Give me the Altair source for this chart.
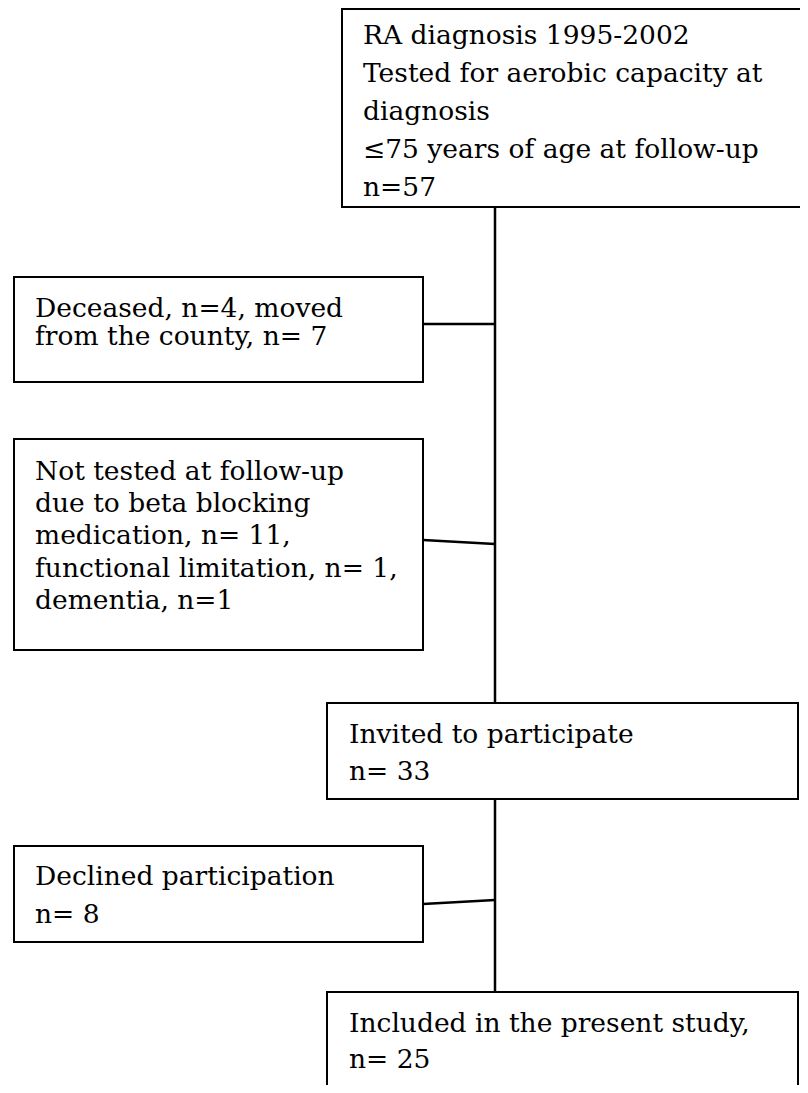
import altair as alt
import pandas as pd

# Box geometry (reference pixel coordinates)
box_x1 = [342, 14, 14, 327, 14, 327]
box_x2 = [805, 423, 423, 798, 423, 798]
box_y1 = [9, 277, 439, 703, 846, 992]
box_y2 = [207, 382, 650, 799, 942, 1110]

# Text of each box, one entry per line
box_lines = [
    ["RA diagnosis 1995-2002", "Tested for aerobic capacity at", "diagnosis",
     "\u226475 years of age at follow-up", "n=57"],
    ["Deceased, n=4, moved", "from the county, n= 7"],
    ["Not tested at follow-up", "due to beta blocking", "medication, n= 11,",
     "functional limitation, n= 1,", "dementia, n=1"],
    ["Invited to participate", "n= 33"],
    ["Declined participation", "n= 8"],
    ["Included in the present study,", "n= 25"],
]
text_x = [363, 35, 35, 349, 35, 349]
text_baselines = [
    [44, 82, 120, 158, 196],
    [317, 345],
    [480, 512, 544, 577, 609],
    [743, 780],
    [885, 923],
    [1032, 1068],
]

# Connector lines
line_x1 = [495, 495, 423, 423, 423]
line_y1 = [207, 799, 324, 540, 904]
line_x2 = [495, 495, 495, 495, 495]
line_y2 = [707, 992, 324, 544, 900]

boxes = pd.DataFrame({"x": box_x1, "x2": box_x2, "y": box_y1, "y2": box_y2})
lines = pd.DataFrame({"x": line_x1, "y": line_y1, "x2": line_x2, "y2": line_y2})
rows = []
for i, ls in enumerate(box_lines):
    for t, yb in zip(ls, text_baselines[i]):
        rows.append({"x": text_x[i], "y": yb, "label": t})
texts = pd.DataFrame(rows)

W, H = 792, 1077
X0, Y0 = 8, 8
xs = alt.Scale(domain=[X0, X0 + W], nice=False, zero=False)
ys = alt.Scale(domain=[Y0, Y0 + H], nice=False, zero=False, reverse=True)

rect = alt.Chart(boxes).mark_rect(fill="white", stroke="black", strokeWidth=2, clip=True).encode(
    x=alt.X("x:Q", scale=xs, axis=None), x2="x2:Q",
    y=alt.Y("y:Q", scale=ys, axis=None), y2="y2:Q",
)

rule = alt.Chart(lines).mark_rule(color="black", strokeWidth=2.5).encode(
    x=alt.X("x:Q", scale=xs, axis=None), x2="x2:Q",
    y=alt.Y("y:Q", scale=ys, axis=None), y2="y2:Q",
)

text = alt.Chart(texts).mark_text(
    align="left", baseline="alphabetic", font="DejaVu Serif", fontSize=26.5, color="black"
).encode(
    x=alt.X("x:Q", scale=xs, axis=None),
    y=alt.Y("y:Q", scale=ys, axis=None),
    text="label:N",
)

chart = alt.layer(rule, rect, text).properties(
    width=W, height=H, padding=0
).configure_view(stroke=None)

chart.save("out.html", embed_options={"renderer": "svg", "actions": False})
